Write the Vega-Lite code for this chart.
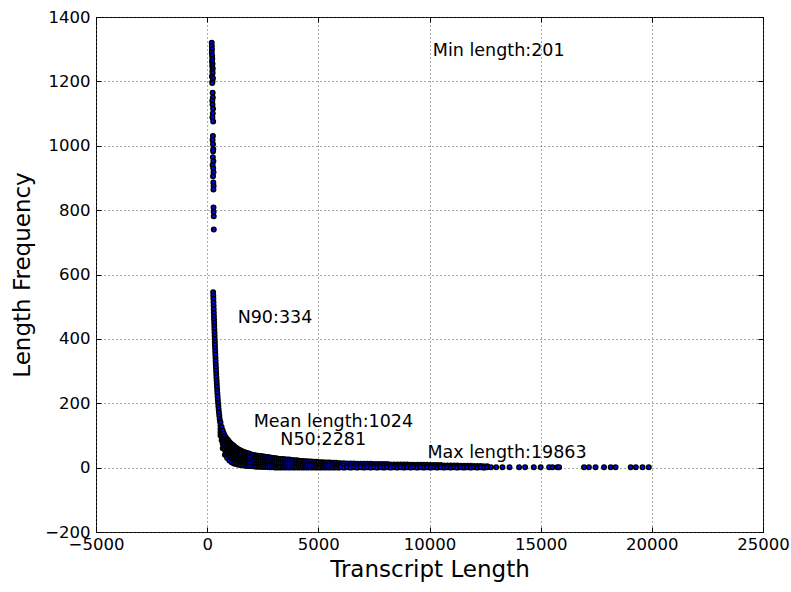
{
  "$schema": "https://vega.github.io/schema/vega-lite/v6.json",
  "width": 667,
  "height": 515,
  "autosize": "none",
  "padding": {"left": 96, "top": 17, "right": 28, "bottom": 60},
  "background": "white",
  "config": {
    "view": {"stroke": "black", "strokeWidth": 1},
    "font": "DejaVu Sans",
    "axis": {
      "domain": false,
      "labelFont": "DejaVu Sans",
      "titleFont": "DejaVu Sans",
      "labelColor": "black",
      "titleColor": "black",
      "labelFontSize": 16.5,
      "titleFontSize": 23,
      "titleFontWeight": "normal",
      "labelFlush": false,
      "tickColor": "black",
      "tickSize": -5,
      "labelPadding": 11,
      "grid": true,
      "gridColor": "#555555",
      "gridDash": [1, 3],
      "gridWidth": 1
    }
  },
  "datasets": {
    "pts": [
      {"len": 205, "freq": 1320}, {"len": 210, "freq": 1310}, {"len": 215, "freq": 1300}, {"len": 208, "freq": 1290},
      {"len": 222, "freq": 1280}, {"len": 230, "freq": 1270}, {"len": 218, "freq": 1262}, {"len": 240, "freq": 1255},
      {"len": 226, "freq": 1248}, {"len": 250, "freq": 1240}, {"len": 235, "freq": 1232}, {"len": 245, "freq": 1225},
      {"len": 212, "freq": 1215}, {"len": 260, "freq": 1210}, {"len": 238, "freq": 1200}, {"len": 228, "freq": 1195},
      {"len": 248, "freq": 1165}, {"len": 255, "freq": 1150}, {"len": 232, "freq": 1140}, {"len": 242, "freq": 1128},
      {"len": 265, "freq": 1115}, {"len": 252, "freq": 1100}, {"len": 236, "freq": 1088}, {"len": 270, "freq": 1075},
      {"len": 258, "freq": 1030}, {"len": 244, "freq": 1018}, {"len": 262, "freq": 1005}, {"len": 275, "freq": 990},
      {"len": 268, "freq": 983}, {"len": 256, "freq": 964}, {"len": 280, "freq": 952}, {"len": 246, "freq": 940},
      {"len": 272, "freq": 930}, {"len": 285, "freq": 918}, {"len": 264, "freq": 905}, {"len": 278, "freq": 886},
      {"len": 290, "freq": 875}, {"len": 282, "freq": 864}, {"len": 286, "freq": 808}, {"len": 292, "freq": 795},
      {"len": 296, "freq": 781}, {"len": 298, "freq": 740},
      {"len": 270, "freq": 545}, {"len": 275, "freq": 535}, {"len": 280, "freq": 525}, {"len": 285, "freq": 514},
      {"len": 290, "freq": 503}, {"len": 295, "freq": 492}, {"len": 300, "freq": 481}, {"len": 305, "freq": 470},
      {"len": 310, "freq": 460}, {"len": 315, "freq": 450}, {"len": 320, "freq": 440}, {"len": 325, "freq": 430},
      {"len": 330, "freq": 420}, {"len": 335, "freq": 410}, {"len": 340, "freq": 400}, {"len": 345, "freq": 390},
      {"len": 350, "freq": 381}, {"len": 356, "freq": 371}, {"len": 362, "freq": 361}, {"len": 368, "freq": 351},
      {"len": 374, "freq": 341}, {"len": 380, "freq": 331}, {"len": 387, "freq": 321}, {"len": 394, "freq": 311},
      {"len": 401, "freq": 301}, {"len": 408, "freq": 291}, {"len": 416, "freq": 281}, {"len": 424, "freq": 271},
      {"len": 432, "freq": 261}, {"len": 441, "freq": 251}, {"len": 450, "freq": 241}, {"len": 460, "freq": 231},
      {"len": 470, "freq": 221}, {"len": 481, "freq": 211}, {"len": 492, "freq": 201}, {"len": 504, "freq": 191},
      {"len": 517, "freq": 181}, {"len": 531, "freq": 171}, {"len": 546, "freq": 161}, {"len": 562, "freq": 151},
      {"len": 580, "freq": 143},
      {"len": 600, "freq": 140}, {"len": 600, "freq": 130}, {"len": 600, "freq": 120}, {"len": 600, "freq": 110}, {"len": 600, "freq": 100},
      {"len": 650, "freq": 126}, {"len": 650, "freq": 113}, {"len": 650, "freq": 99}, {"len": 650, "freq": 85},
      {"len": 700, "freq": 115}, {"len": 700, "freq": 101}, {"len": 700, "freq": 88}, {"len": 700, "freq": 74}, {"len": 700, "freq": 60},
      {"len": 750, "freq": 106}, {"len": 750, "freq": 92}, {"len": 750, "freq": 78}, {"len": 750, "freq": 64},
      {"len": 800, "freq": 98}, {"len": 800, "freq": 84}, {"len": 800, "freq": 69}, {"len": 800, "freq": 55}, {"len": 800, "freq": 40},
      {"len": 850, "freq": 92}, {"len": 850, "freq": 78}, {"len": 850, "freq": 63}, {"len": 850, "freq": 48},
      {"len": 900, "freq": 88}, {"len": 900, "freq": 74}, {"len": 900, "freq": 59}, {"len": 900, "freq": 45}, {"len": 900, "freq": 30},
      {"len": 950, "freq": 84}, {"len": 950, "freq": 70}, {"len": 950, "freq": 55}, {"len": 950, "freq": 40},
      {"len": 1000, "freq": 80}, {"len": 1000, "freq": 66}, {"len": 1000, "freq": 51}, {"len": 1000, "freq": 37}, {"len": 1000, "freq": 22},
      {"len": 1050, "freq": 76}, {"len": 1050, "freq": 62}, {"len": 1050, "freq": 48}, {"len": 1050, "freq": 33},
      {"len": 1100, "freq": 73}, {"len": 1100, "freq": 59}, {"len": 1100, "freq": 45}, {"len": 1100, "freq": 31}, {"len": 1100, "freq": 17},
      {"len": 1150, "freq": 70}, {"len": 1150, "freq": 56}, {"len": 1150, "freq": 42}, {"len": 1150, "freq": 28},
      {"len": 1200, "freq": 67}, {"len": 1200, "freq": 54}, {"len": 1200, "freq": 40}, {"len": 1200, "freq": 27}, {"len": 1200, "freq": 13},
      {"len": 1250, "freq": 64}, {"len": 1250, "freq": 51}, {"len": 1250, "freq": 38}, {"len": 1250, "freq": 25},
      {"len": 1300, "freq": 62}, {"len": 1300, "freq": 49}, {"len": 1300, "freq": 37}, {"len": 1300, "freq": 24}, {"len": 1300, "freq": 11},
      {"len": 1350, "freq": 59}, {"len": 1350, "freq": 47}, {"len": 1350, "freq": 35}, {"len": 1350, "freq": 22},
      {"len": 1400, "freq": 57}, {"len": 1400, "freq": 45}, {"len": 1400, "freq": 33}, {"len": 1400, "freq": 21}, {"len": 1400, "freq": 9},
      {"len": 1450, "freq": 55}, {"len": 1450, "freq": 43}, {"len": 1450, "freq": 32}, {"len": 1450, "freq": 20},
      {"len": 1500, "freq": 53}, {"len": 1500, "freq": 42}, {"len": 1500, "freq": 31}, {"len": 1500, "freq": 19}, {"len": 1500, "freq": 8},
      {"len": 1550, "freq": 51}, {"len": 1550, "freq": 40}, {"len": 1550, "freq": 30}, {"len": 1550, "freq": 18},
      {"len": 1600, "freq": 50}, {"len": 1600, "freq": 39}, {"len": 1600, "freq": 29}, {"len": 1600, "freq": 18}, {"len": 1600, "freq": 7},
      {"len": 1650, "freq": 48}, {"len": 1650, "freq": 38}, {"len": 1650, "freq": 28}, {"len": 1650, "freq": 17},
      {"len": 1700, "freq": 47}, {"len": 1700, "freq": 37}, {"len": 1700, "freq": 27}, {"len": 1700, "freq": 16}, {"len": 1700, "freq": 6},
      {"len": 1750, "freq": 46}, {"len": 1750, "freq": 36}, {"len": 1750, "freq": 26}, {"len": 1750, "freq": 15},
      {"len": 1800, "freq": 45}, {"len": 1800, "freq": 35}, {"len": 1800, "freq": 25}, {"len": 1800, "freq": 15}, {"len": 1800, "freq": 5},
      {"len": 1850, "freq": 44}, {"len": 1850, "freq": 34}, {"len": 1850, "freq": 24}, {"len": 1850, "freq": 14},
      {"len": 1900, "freq": 43}, {"len": 1900, "freq": 34}, {"len": 1900, "freq": 24}, {"len": 1900, "freq": 15}, {"len": 1900, "freq": 5},
      {"len": 2000, "freq": 41}, {"len": 2000, "freq": 32}, {"len": 2000, "freq": 23}, {"len": 2000, "freq": 13}, {"len": 2000, "freq": 4},
      {"len": 2100, "freq": 39}, {"len": 2100, "freq": 30}, {"len": 2100, "freq": 22}, {"len": 2100, "freq": 13}, {"len": 2100, "freq": 4},
      {"len": 2200, "freq": 38}, {"len": 2200, "freq": 29}, {"len": 2200, "freq": 21}, {"len": 2200, "freq": 12}, {"len": 2200, "freq": 3},
      {"len": 2300, "freq": 37}, {"len": 2300, "freq": 29}, {"len": 2300, "freq": 20}, {"len": 2300, "freq": 12}, {"len": 2300, "freq": 3},
      {"len": 2400, "freq": 36}, {"len": 2400, "freq": 28}, {"len": 2400, "freq": 20}, {"len": 2400, "freq": 11}, {"len": 2400, "freq": 3},
      {"len": 2500, "freq": 35}, {"len": 2500, "freq": 27}, {"len": 2500, "freq": 19}, {"len": 2500, "freq": 10}, {"len": 2500, "freq": 2},
      {"len": 2600, "freq": 34}, {"len": 2600, "freq": 26}, {"len": 2600, "freq": 18}, {"len": 2600, "freq": 10}, {"len": 2600, "freq": 2},
      {"len": 2700, "freq": 33}, {"len": 2700, "freq": 25}, {"len": 2700, "freq": 18}, {"len": 2700, "freq": 9}, {"len": 2700, "freq": 2},
      {"len": 2800, "freq": 32}, {"len": 2800, "freq": 24}, {"len": 2800, "freq": 17}, {"len": 2800, "freq": 9}, {"len": 2800, "freq": 1},
      {"len": 2900, "freq": 31}, {"len": 2900, "freq": 23}, {"len": 2900, "freq": 16}, {"len": 2900, "freq": 8}, {"len": 2900, "freq": 1},
      {"len": 3000, "freq": 30}, {"len": 3000, "freq": 23}, {"len": 3000, "freq": 16}, {"len": 3000, "freq": 8}, {"len": 3000, "freq": 1},
      {"len": 3100, "freq": 29}, {"len": 3100, "freq": 15}, {"len": 3100, "freq": 0},
      {"len": 3200, "freq": 28}, {"len": 3200, "freq": 14}, {"len": 3200, "freq": 1},
      {"len": 3300, "freq": 27}, {"len": 3300, "freq": 14}, {"len": 3300, "freq": 0},
      {"len": 3400, "freq": 27}, {"len": 3400, "freq": 13}, {"len": 3400, "freq": 1},
      {"len": 3500, "freq": 26}, {"len": 3500, "freq": 13}, {"len": 3500, "freq": 0},
      {"len": 3600, "freq": 25}, {"len": 3600, "freq": 13}, {"len": 3600, "freq": 1},
      {"len": 3700, "freq": 25}, {"len": 3700, "freq": 12}, {"len": 3700, "freq": 0},
      {"len": 3800, "freq": 24}, {"len": 3800, "freq": 12}, {"len": 3800, "freq": 1},
      {"len": 3900, "freq": 23}, {"len": 3900, "freq": 12}, {"len": 3900, "freq": 0},
      {"len": 4000, "freq": 23}, {"len": 4000, "freq": 11}, {"len": 4000, "freq": 1},
      {"len": 4100, "freq": 22}, {"len": 4100, "freq": 11}, {"len": 4100, "freq": 0},
      {"len": 4200, "freq": 21}, {"len": 4200, "freq": 11}, {"len": 4200, "freq": 1},
      {"len": 4300, "freq": 21}, {"len": 4300, "freq": 10}, {"len": 4300, "freq": 0},
      {"len": 4400, "freq": 20}, {"len": 4400, "freq": 10}, {"len": 4400, "freq": 1},
      {"len": 4500, "freq": 20}, {"len": 4500, "freq": 10}, {"len": 4500, "freq": 0},
      {"len": 4600, "freq": 19}, {"len": 4600, "freq": 10}, {"len": 4600, "freq": 1},
      {"len": 4700, "freq": 19}, {"len": 4700, "freq": 9}, {"len": 4700, "freq": 0},
      {"len": 4800, "freq": 18}, {"len": 4800, "freq": 9}, {"len": 4800, "freq": 1},
      {"len": 4900, "freq": 18}, {"len": 4900, "freq": 9}, {"len": 4900, "freq": 0},
      {"len": 5000, "freq": 17}, {"len": 5000, "freq": 9}, {"len": 5000, "freq": 1},
      {"len": 5100, "freq": 17}, {"len": 5100, "freq": 8}, {"len": 5100, "freq": 0},
      {"len": 5200, "freq": 17}, {"len": 5200, "freq": 8}, {"len": 5200, "freq": 1},
      {"len": 5300, "freq": 16}, {"len": 5300, "freq": 8}, {"len": 5300, "freq": 0},
      {"len": 5400, "freq": 16}, {"len": 5400, "freq": 8}, {"len": 5400, "freq": 1},
      {"len": 5500, "freq": 16}, {"len": 5500, "freq": 8}, {"len": 5500, "freq": 0},
      {"len": 5600, "freq": 15}, {"len": 5600, "freq": 7}, {"len": 5600, "freq": 1},
      {"len": 5700, "freq": 15}, {"len": 5700, "freq": 7}, {"len": 5700, "freq": 0},
      {"len": 5800, "freq": 15}, {"len": 5800, "freq": 7}, {"len": 5800, "freq": 1},
      {"len": 5900, "freq": 14}, {"len": 5900, "freq": 7}, {"len": 5900, "freq": 0},
      {"len": 6000, "freq": 14}, {"len": 6000, "freq": 7}, {"len": 6000, "freq": 1},
      {"len": 6150, "freq": 14}, {"len": 6150, "freq": 7}, {"len": 6150, "freq": 0},
      {"len": 6300, "freq": 13}, {"len": 6300, "freq": 6}, {"len": 6300, "freq": 1},
      {"len": 6450, "freq": 13}, {"len": 6450, "freq": 6}, {"len": 6450, "freq": 0},
      {"len": 6600, "freq": 13}, {"len": 6600, "freq": 6}, {"len": 6600, "freq": 1},
      {"len": 6750, "freq": 12}, {"len": 6750, "freq": 6}, {"len": 6750, "freq": 0},
      {"len": 6900, "freq": 12}, {"len": 6900, "freq": 6}, {"len": 6900, "freq": 1},
      {"len": 7050, "freq": 12}, {"len": 7050, "freq": 6}, {"len": 7050, "freq": 0},
      {"len": 7200, "freq": 12}, {"len": 7200, "freq": 5}, {"len": 7200, "freq": 1},
      {"len": 7350, "freq": 12}, {"len": 7350, "freq": 5}, {"len": 7350, "freq": 0},
      {"len": 7500, "freq": 11}, {"len": 7500, "freq": 5}, {"len": 7500, "freq": 1},
      {"len": 7650, "freq": 11}, {"len": 7650, "freq": 5}, {"len": 7650, "freq": 0},
      {"len": 7800, "freq": 11}, {"len": 7800, "freq": 5}, {"len": 7800, "freq": 1},
      {"len": 7950, "freq": 11}, {"len": 7950, "freq": 5}, {"len": 7950, "freq": 0},
      {"len": 8100, "freq": 11}, {"len": 8100, "freq": 5}, {"len": 8100, "freq": 1},
      {"len": 8250, "freq": 10}, {"len": 8250, "freq": 5}, {"len": 8250, "freq": 0},
      {"len": 8400, "freq": 10}, {"len": 8400, "freq": 5}, {"len": 8400, "freq": 1},
      {"len": 8550, "freq": 10}, {"len": 8550, "freq": 5}, {"len": 8550, "freq": 0},
      {"len": 8700, "freq": 10}, {"len": 8700, "freq": 4}, {"len": 8700, "freq": 1},
      {"len": 8850, "freq": 10}, {"len": 8850, "freq": 4}, {"len": 8850, "freq": 0},
      {"len": 9000, "freq": 10}, {"len": 9000, "freq": 4}, {"len": 9000, "freq": 1},
      {"len": 9150, "freq": 9}, {"len": 9150, "freq": 4}, {"len": 9150, "freq": 0},
      {"len": 9300, "freq": 9}, {"len": 9300, "freq": 4}, {"len": 9300, "freq": 1},
      {"len": 9450, "freq": 9}, {"len": 9450, "freq": 4}, {"len": 9450, "freq": 0},
      {"len": 9600, "freq": 9}, {"len": 9600, "freq": 4}, {"len": 9600, "freq": 1},
      {"len": 9750, "freq": 9}, {"len": 9750, "freq": 4}, {"len": 9750, "freq": 0},
      {"len": 9900, "freq": 9}, {"len": 9900, "freq": 4}, {"len": 9900, "freq": 1},
      {"len": 10050, "freq": 8}, {"len": 10050, "freq": 4}, {"len": 10050, "freq": 0},
      {"len": 10200, "freq": 8}, {"len": 10200, "freq": 3}, {"len": 10200, "freq": 1},
      {"len": 10350, "freq": 8}, {"len": 10350, "freq": 3}, {"len": 10350, "freq": 0},
      {"len": 10500, "freq": 8}, {"len": 10500, "freq": 3}, {"len": 10500, "freq": 1},
      {"len": 10650, "freq": 7}, {"len": 10650, "freq": 3}, {"len": 10650, "freq": 0},
      {"len": 10800, "freq": 7}, {"len": 10800, "freq": 3}, {"len": 10800, "freq": 1},
      {"len": 10950, "freq": 7}, {"len": 10950, "freq": 3}, {"len": 10950, "freq": 0},
      {"len": 11100, "freq": 7}, {"len": 11100, "freq": 3}, {"len": 11100, "freq": 1},
      {"len": 11250, "freq": 7}, {"len": 11250, "freq": 3}, {"len": 11250, "freq": 0},
      {"len": 11400, "freq": 6}, {"len": 11400, "freq": 3}, {"len": 11400, "freq": 1},
      {"len": 11550, "freq": 6}, {"len": 11550, "freq": 2}, {"len": 11550, "freq": 0},
      {"len": 11700, "freq": 6}, {"len": 11700, "freq": 2}, {"len": 11700, "freq": 1},
      {"len": 11850, "freq": 6}, {"len": 11850, "freq": 2}, {"len": 11850, "freq": 0},
      {"len": 12000, "freq": 5}, {"len": 12000, "freq": 2}, {"len": 12000, "freq": 1},
      {"len": 12150, "freq": 5}, {"len": 12150, "freq": 2}, {"len": 12150, "freq": 0},
      {"len": 12300, "freq": 5}, {"len": 12300, "freq": 2}, {"len": 12300, "freq": 1},
      {"len": 12450, "freq": 4}, {"len": 12450, "freq": 1}, {"len": 12450, "freq": 0},
      {"len": 12600, "freq": 4}, {"len": 12600, "freq": 1},
      {"len": 12760, "freq": 1}, {"len": 13000, "freq": 1}, {"len": 13280, "freq": 1}, {"len": 13600, "freq": 1},
      {"len": 14030, "freq": 1}, {"len": 14300, "freq": 1}, {"len": 14690, "freq": 1}, {"len": 15000, "freq": 1},
      {"len": 15380, "freq": 1}, {"len": 15530, "freq": 1}, {"len": 15750, "freq": 1}, {"len": 15830, "freq": 1},
      {"len": 16950, "freq": 1}, {"len": 17170, "freq": 1}, {"len": 17470, "freq": 1}, {"len": 17850, "freq": 1},
      {"len": 18150, "freq": 1}, {"len": 18370, "freq": 1}, {"len": 19050, "freq": 1}, {"len": 19280, "freq": 1},
      {"len": 19580, "freq": 1}, {"len": 19863, "freq": 1}
    ],
    "notes": [
      {"len": 10150, "freq": 1278, "label": "Min length:201"},
      {"len": 1370, "freq": 450, "label": "N90:334"},
      {"len": 2090, "freq": 125, "label": "Mean length:1024"},
      {"len": 3290, "freq": 69, "label": "N50:2281"},
      {"len": 9910, "freq": 31, "label": "Max length:19863"}
    ]
  },
  "resolve": {"axis": {"x": "independent", "y": "independent"}},
  "layer": [
    {
      "data": {"name": "pts"},
      "mark": {"type": "point", "shape": "circle", "filled": true, "fill": "#0000ff", "stroke": "black", "strokeWidth": 1.5, "size": 20, "opacity": 1},
      "encoding": {
        "x": {
          "field": "len", "type": "quantitative",
          "scale": {"domain": [-5000, 25000], "nice": false, "zero": false},
          "axis": {"title": "Transcript Length", "values": [-5000, 0, 5000, 10000, 15000, 20000, 25000], "format": "d", "labelPadding": 9, "titlePadding": 6}
        },
        "y": {
          "field": "freq", "type": "quantitative",
          "scale": {"domain": [-200, 1400], "nice": false, "zero": false},
          "axis": {"title": "Length Frequency", "values": [-200, 0, 200, 400, 600, 800, 1000, 1200, 1400], "format": "d", "titlePadding": 10}
        }
      }
    },
    {
      "data": {"name": "notes"},
      "mark": {"type": "text", "align": "left", "baseline": "alphabetic", "fontSize": 17.5, "font": "DejaVu Sans", "color": "black"},
      "encoding": {
        "x": {
          "field": "len", "type": "quantitative",
          "scale": {"domain": [-5000, 25000], "nice": false, "zero": false},
          "axis": {"orient": "top", "title": null, "labels": false, "grid": false, "values": [-5000, 0, 5000, 10000, 15000, 20000, 25000], "tickSize": 5, "offset": -5}
        },
        "y": {
          "field": "freq", "type": "quantitative",
          "scale": {"domain": [-200, 1400], "nice": false, "zero": false},
          "axis": {"orient": "right", "title": null, "labels": false, "grid": false, "values": [-200, 0, 200, 400, 600, 800, 1000, 1200, 1400], "tickSize": 5, "offset": -5}
        },
        "text": {"field": "label"}
      }
    }
  ]
}
